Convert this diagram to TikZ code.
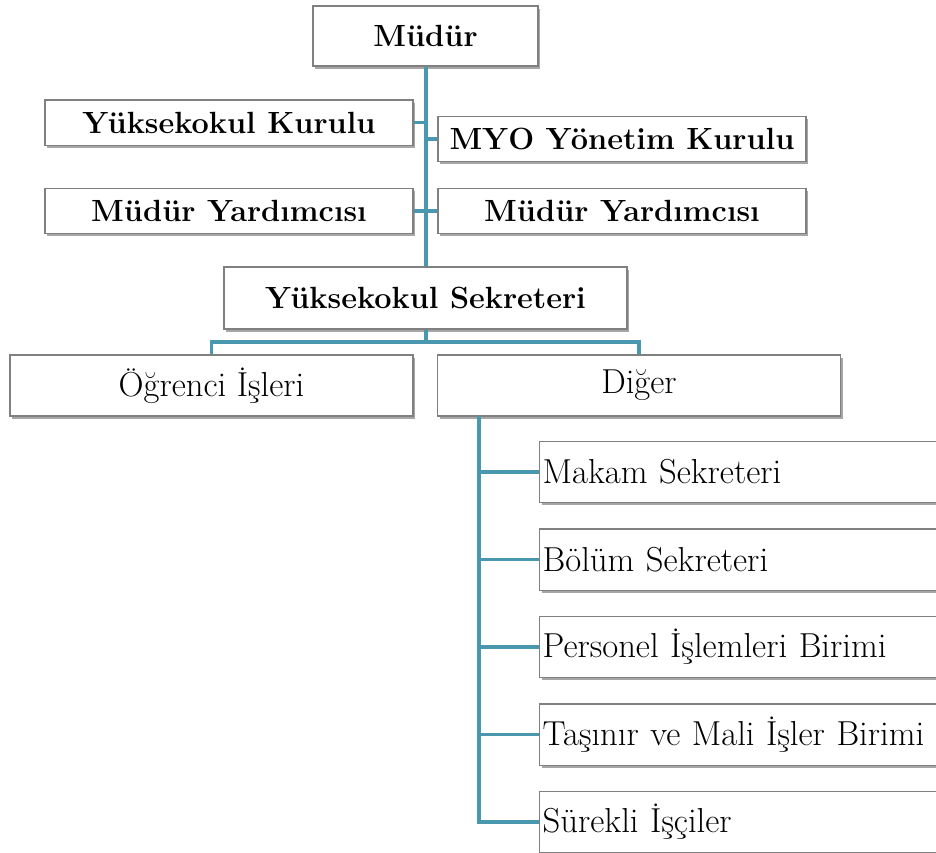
\documentclass[tikz,border=0pt]{standalone}
\usepackage{tikz}
\usetikzlibrary{shadows}

\definecolor{linkblue}{RGB}{74,152,176}
\definecolor{boxgray}{RGB}{128,128,128}

\tikzset{
  orgbox/.style={draw=boxgray, line width=1pt, fill=white, inner sep=0.75pt,
    drop shadow={shadow xshift=1.5pt, shadow yshift=-2pt, opacity=0.35, fill=black}},
  headbox/.style={orgbox, font=\fontsize{23}{27}\selectfont\bfseries},
  unitbox/.style={orgbox, font=\fontsize{26}{30}\selectfont},
  subbox/.style={unitbox, anchor=west, inner xsep=2.25pt, text width=322.5pt, align=left, minimum height=46pt},
  trunk/.style={draw=linkblue, line width=3pt},
  branch/.style={draw=linkblue, line width=2.4pt},
}

\begin{document}
\begin{tikzpicture}[x=0.75pt,y=0.75pt,yscale=-1,xscale=1]
   \useasboundingbox (0,0) rectangle (936,853);
   \clip (0,0) rectangle (936,853);

   % Top level
   \node [headbox, minimum width=168.75pt, minimum height=45pt] (mudur) at (425.5,36) {Müdür};
   \node [headbox, minimum width=276pt, minimum height=34pt] (kurul) at (229,122.5) {Yüksekokul Kurulu};
   \node [headbox, minimum width=276pt, minimum height=34pt] (myo) at (622,139) {MYO Yönetim Kurulu};
   \node [headbox, minimum width=276pt, minimum height=34pt] (yardL) at (229,211) {Müdür Yardımcısı};
   \node [headbox, minimum width=276pt, minimum height=34pt] (yardR) at (622,211) {Müdür Yardımcısı};
   \node [headbox, minimum width=302.25pt, minimum height=46.5pt] (sekreter) at (425.5,298) {Yüksekokul Sekreteri};

   % Second level
   \node [unitbox, minimum width=302.25pt, minimum height=45.75pt] (ogrenci) at (211.5,385.5) {Öğrenci İşleri};
   \node [unitbox, minimum width=302.25pt, minimum height=45.75pt] (diger) at (639,385.5) {Diğer};

   % Units under Diger
   \node [subbox] (makam) at (539,472) {Makam Sekreteri};
   \node [subbox] (bolum) at (539,559.5) {Bölüm Sekreteri};
   \node [subbox] (personel) at (539,647) {Personel İşlemleri Birimi};
   \node [subbox] (tasinir) at (539,734.5) {Taşınır ve Mali İşler Birimi};
   \node [subbox] (surekli) at (539,822) {Sürekli İşçiler};

   % Connectors
   \draw [trunk] (mudur.south) -- (sekreter.north);
   \draw [branch] (kurul.east) -- (kurul.east -| mudur.south);
   \draw [branch] (myo.west) -- (myo.west -| mudur.south);
   \draw [branch] (yardL.east) -- (yardR.west);

   \coordinate (bus) at (425.5,342);
   \draw [trunk] (sekreter.south) -- (bus);
   \draw [branch] (ogrenci.north) |- (bus) -| (diger.north);

   \coordinate (dtop) at (479,416);
   \draw [branch] (dtop) |- (surekli.west);
   \foreach \n in {makam,bolum,personel,tasinir}
     \draw [branch] (\n.west -| dtop) -- (\n.west);

\end{tikzpicture}
\end{document}
